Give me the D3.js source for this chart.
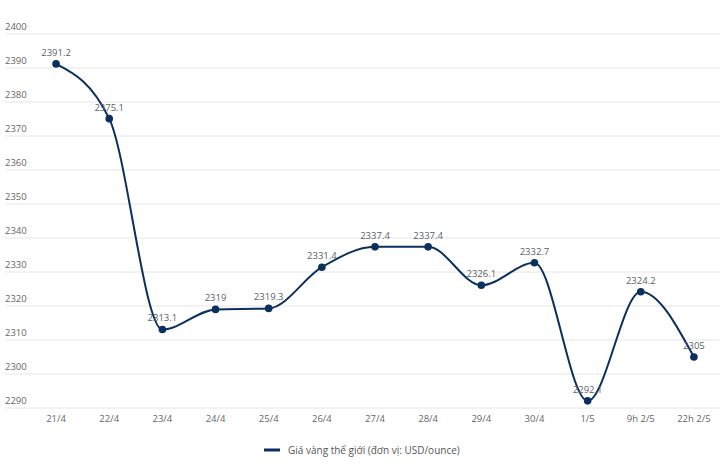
<!DOCTYPE html>
<html><head><meta charset="utf-8">
<script src="https://cdn.jsdelivr.net/npm/d3@7"></script>
<style>body{margin:0;background:#fff}svg{display:block}text{font-family:"Open Sans","Noto Sans",sans-serif}</style>
</head><body><svg id="c" width="720" height="473"></svg>
<script>
const categories = ["21/4","22/4","23/4","24/4","25/4","26/4","27/4","28/4","29/4","30/4","1/5","9h 2/5","22h 2/5"];
const values = [2391.2,2375.1,2313.1,2319,2319.3,2331.4,2337.4,2337.4,2326.1,2332.7,2292.1,2324.2,2305];
const yTicks = [2290,2300,2310,2320,2330,2340,2350,2360,2370,2380,2390,2400];
const seriesName = "Giá vàng thế giới (đơn vị: USD/ounce)";

const svg = d3.select("#c");
const x = d3.scaleBand().domain(categories).range([29.5, 720.5]);
const y = d3.scaleLinear().domain([2290, 2400]).range([408, 34]);
const lineColor = "#0b2f5e";

const g = svg.append("g");
g.selectAll("line.grid").data(yTicks).join("line")
  .attr("x1", 5).attr("x2", 720).attr("y1", d => y(d)).attr("y2", d => y(d))
  .attr("stroke", "#e6e6e6").attr("stroke-width", 1);
g.selectAll("text.yl").data(yTicks).join("text")
  .attr("x", 5).attr("y", d => y(d) - 4).text(d => d)
  .attr("font-size", 9.5).attr("fill", "#666");

g.selectAll("text.xl").data(categories).join("text")
  .attr("x", d => x(d) + x.bandwidth()/2).attr("y", 422)
  .attr("text-anchor", "middle").attr("font-size", 9.5).attr("fill", "#666").text(d => d);

const pts = categories.map((c,i) => [x(c) + x.bandwidth()/2, y(values[i])]);
const line = d3.line().curve(d3.curveMonotoneX);
g.append("path").attr("d", line(pts)).attr("fill", "none").attr("stroke", lineColor).attr("stroke-width", 2);
g.selectAll("circle").data(pts).join("circle")
  .attr("cx", d => d[0]).attr("cy", d => d[1]).attr("r", 3.8).attr("fill", lineColor);
g.selectAll("text.dl").data(values).join("text")
  .attr("x", (d,i) => pts[i][0]).attr("y", (d,i) => pts[i][1] - 8)
  .attr("text-anchor", "middle").attr("font-size", 9.5).attr("fill", "#5a5f68").text(d => d);

const lg = svg.append("g");
lg.append("line").attr("x1", 264).attr("x2", 280).attr("y1", 450).attr("y2", 450)
  .attr("stroke", lineColor).attr("stroke-width", 3);
lg.append("text").attr("x", 288).attr("y", 453.5).attr("font-size", 10).attr("fill", "#555").text(seriesName);
</script></body></html>
